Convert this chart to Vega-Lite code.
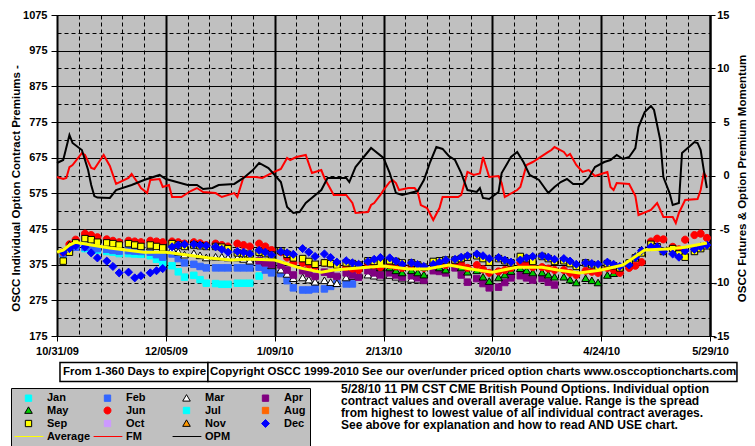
{
"$schema": "https://vega.github.io/schema/vega-lite/v6.json",
"width": 653, "height": 321,
"autosize": "none",
"padding": {"left": 57, "top": 15, "right": 45, "bottom": 110},
"background": "#FFFFFF",
"config": {
 "view": {"fill": "#C0C0C0", "stroke": "#808080", "strokeWidth": 1},
 "axis": {"labelFont": "Liberation Sans", "labelFontSize": 11, "labelFontWeight": "bold", "labelColor": "#000000", "titleFont": "Liberation Sans", "titleFontSize": 11.5, "titleFontWeight": "bold", "titleColor": "#000000", "domainColor": "#000000", "tickColor": "#000000", "gridColor": "#000000", "gridOpacity": 1, "labelOverlap": false, "labelFlush": false},
 "legend": {"orient": "none", "legendX": -46, "legendY": 373, "direction": "horizontal", "columns": 4, "gridAlign": "all", "fillColor": "#C0C0C0", "strokeColor": "#000000", "padding": 4, "labelFont": "Liberation Sans", "labelFontSize": 11, "labelFontWeight": "bold", "labelColor": "#000000", "symbolSize": 40, "symbolOffset": 8, "labelOffset": 13, "columnPadding": 0, "rowPadding": 0, "symbolStrokeWidth": 1}
},
"datasets": {
 "pts": [
{"d":"2009-11-02","s":"Jan","v":405},{"d":"2009-11-04","s":"Jan","v":420},{"d":"2009-11-06","s":"Jan","v":428},
{"d":"2009-11-09","s":"Jan","v":420},{"d":"2009-11-11","s":"Jan","v":418},{"d":"2009-11-13","s":"Jan","v":416},
{"d":"2009-11-16","s":"Jan","v":412},{"d":"2009-11-18","s":"Jan","v":410},{"d":"2009-11-20","s":"Jan","v":406},
{"d":"2009-11-23","s":"Jan","v":406},{"d":"2009-11-25","s":"Jan","v":405},{"d":"2009-11-27","s":"Jan","v":404},
{"d":"2009-11-30","s":"Jan","v":400},{"d":"2009-12-02","s":"Jan","v":390},{"d":"2009-12-04","s":"Jan","v":380},
{"d":"2009-12-07","s":"Jan","v":372},{"d":"2009-12-09","s":"Jan","v":355},{"d":"2009-12-11","s":"Jan","v":340},
{"d":"2009-12-14","s":"Jan","v":345},{"d":"2009-12-16","s":"Jan","v":333},{"d":"2009-12-18","s":"Jan","v":323},
{"d":"2009-12-21","s":"Jan","v":322},{"d":"2009-12-23","s":"Jan","v":320},{"d":"2009-12-25","s":"Jan","v":320},
{"d":"2009-12-28","s":"Jan","v":323},{"d":"2009-12-30","s":"Jan","v":323},{"d":"2010-01-01","s":"Jan","v":323},
{"d":"2010-01-04","s":"Jan","v":343},
{"d":"2009-11-02","s":"Feb","v":405},{"d":"2009-11-04","s":"Feb","v":418},{"d":"2009-11-06","s":"Feb","v":424},
{"d":"2009-11-09","s":"Feb","v":424},{"d":"2009-11-11","s":"Feb","v":422},{"d":"2009-11-13","s":"Feb","v":420},
{"d":"2009-11-16","s":"Feb","v":418},{"d":"2009-11-18","s":"Feb","v":415},{"d":"2009-11-20","s":"Feb","v":413},
{"d":"2009-11-23","s":"Feb","v":414},{"d":"2009-11-25","s":"Feb","v":413},{"d":"2009-11-27","s":"Feb","v":412},
{"d":"2009-11-30","s":"Feb","v":410},{"d":"2009-12-02","s":"Feb","v":403},{"d":"2009-12-04","s":"Feb","v":396},
{"d":"2009-12-07","s":"Feb","v":405},{"d":"2009-12-09","s":"Feb","v":392},{"d":"2009-12-11","s":"Feb","v":380},
{"d":"2009-12-14","s":"Feb","v":376},{"d":"2009-12-16","s":"Feb","v":370},{"d":"2009-12-18","s":"Feb","v":366},
{"d":"2009-12-21","s":"Feb","v":366},{"d":"2009-12-23","s":"Feb","v":366},{"d":"2009-12-25","s":"Feb","v":366},
{"d":"2009-12-28","s":"Feb","v":366},{"d":"2009-12-30","s":"Feb","v":366},{"d":"2010-01-01","s":"Feb","v":366},
{"d":"2010-01-04","s":"Feb","v":368},{"d":"2010-01-06","s":"Feb","v":360},{"d":"2010-01-08","s":"Feb","v":352},
{"d":"2010-01-11","s":"Feb","v":350},{"d":"2010-01-13","s":"Feb","v":330},{"d":"2010-01-15","s":"Feb","v":310},
{"d":"2010-01-18","s":"Feb","v":304},{"d":"2010-01-20","s":"Feb","v":304},{"d":"2010-01-22","s":"Feb","v":307},
{"d":"2010-01-25","s":"Feb","v":307},{"d":"2010-01-27","s":"Feb","v":314},{"d":"2010-01-29","s":"Feb","v":322},
{"d":"2010-02-01","s":"Feb","v":321},{"d":"2010-02-03","s":"Feb","v":321},
{"d":"2009-11-30","s":"Mar","v":425},{"d":"2009-12-02","s":"Mar","v":420},{"d":"2009-12-04","s":"Mar","v":418},
{"d":"2009-12-07","s":"Mar","v":418},{"d":"2009-12-09","s":"Mar","v":410},{"d":"2009-12-11","s":"Mar","v":402},
{"d":"2009-12-14","s":"Mar","v":406},{"d":"2009-12-16","s":"Mar","v":400},{"d":"2009-12-18","s":"Mar","v":394},
{"d":"2009-12-21","s":"Mar","v":396},{"d":"2009-12-23","s":"Mar","v":396},{"d":"2009-12-25","s":"Mar","v":394},
{"d":"2009-12-28","s":"Mar","v":394},{"d":"2009-12-30","s":"Mar","v":390},{"d":"2010-01-01","s":"Mar","v":385},
{"d":"2010-01-04","s":"Mar","v":392},{"d":"2010-01-06","s":"Mar","v":382},{"d":"2010-01-08","s":"Mar","v":372},
{"d":"2010-01-11","s":"Mar","v":360},{"d":"2010-01-13","s":"Mar","v":348},{"d":"2010-01-15","s":"Mar","v":336},
{"d":"2010-01-18","s":"Mar","v":338},{"d":"2010-01-20","s":"Mar","v":332},{"d":"2010-01-22","s":"Mar","v":326},
{"d":"2010-01-25","s":"Mar","v":330},{"d":"2010-01-27","s":"Mar","v":325},{"d":"2010-01-29","s":"Mar","v":322},
{"d":"2010-02-01","s":"Mar","v":338},{"d":"2010-02-03","s":"Mar","v":342},{"d":"2010-02-05","s":"Mar","v":345},
{"d":"2010-02-08","s":"Mar","v":346},{"d":"2010-02-10","s":"Mar","v":343},{"d":"2010-02-12","s":"Mar","v":340},
{"d":"2010-02-15","s":"Mar","v":345},{"d":"2010-02-17","s":"Mar","v":340},{"d":"2010-02-19","s":"Mar","v":335},
{"d":"2010-02-22","s":"Mar","v":334},{"d":"2010-02-24","s":"Mar","v":332},{"d":"2010-02-26","s":"Mar","v":330},
{"d":"2010-01-04","s":"Apr","v":386},{"d":"2010-01-06","s":"Apr","v":380},{"d":"2010-01-08","s":"Apr","v":376},
{"d":"2010-01-11","s":"Apr","v":374},{"d":"2010-01-13","s":"Apr","v":360},{"d":"2010-01-15","s":"Apr","v":346},
{"d":"2010-01-18","s":"Apr","v":358},{"d":"2010-01-20","s":"Apr","v":350},{"d":"2010-01-22","s":"Apr","v":342},
{"d":"2010-01-25","s":"Apr","v":354},{"d":"2010-01-27","s":"Apr","v":348},{"d":"2010-01-29","s":"Apr","v":342},
{"d":"2010-02-01","s":"Apr","v":352},{"d":"2010-02-03","s":"Apr","v":346},{"d":"2010-02-05","s":"Apr","v":340},
{"d":"2010-02-08","s":"Apr","v":358},{"d":"2010-02-10","s":"Apr","v":352},{"d":"2010-02-12","s":"Apr","v":346},
{"d":"2010-02-15","s":"Apr","v":352},{"d":"2010-02-17","s":"Apr","v":346},{"d":"2010-02-19","s":"Apr","v":340},
{"d":"2010-02-22","s":"Apr","v":344},{"d":"2010-02-24","s":"Apr","v":338},{"d":"2010-02-26","s":"Apr","v":332},
{"d":"2010-03-01","s":"Apr","v":358},{"d":"2010-03-03","s":"Apr","v":356},{"d":"2010-03-05","s":"Apr","v":352},
{"d":"2010-03-08","s":"Apr","v":366},{"d":"2010-03-10","s":"Apr","v":346},{"d":"2010-03-12","s":"Apr","v":326},
{"d":"2010-03-15","s":"Apr","v":336},{"d":"2010-03-17","s":"Apr","v":322},{"d":"2010-03-19","s":"Apr","v":310},
{"d":"2010-03-22","s":"Apr","v":312},{"d":"2010-03-24","s":"Apr","v":325},{"d":"2010-03-26","s":"Apr","v":338},
{"d":"2010-03-29","s":"Apr","v":344},{"d":"2010-03-31","s":"Apr","v":338},{"d":"2010-04-02","s":"Apr","v":332},
{"d":"2010-04-05","s":"Apr","v":336},{"d":"2010-04-07","s":"Apr","v":326},{"d":"2010-04-09","s":"Apr","v":318},
{"d":"2010-02-01","s":"May","v":372},{"d":"2010-02-03","s":"May","v":368},{"d":"2010-02-05","s":"May","v":365},
{"d":"2010-02-08","s":"May","v":376},{"d":"2010-02-10","s":"May","v":372},{"d":"2010-02-12","s":"May","v":366},
{"d":"2010-02-15","s":"May","v":366},{"d":"2010-02-17","s":"May","v":358},{"d":"2010-02-19","s":"May","v":352},
{"d":"2010-02-22","s":"May","v":358},{"d":"2010-02-24","s":"May","v":352},{"d":"2010-02-26","s":"May","v":346},
{"d":"2010-03-01","s":"May","v":372},{"d":"2010-03-03","s":"May","v":366},{"d":"2010-03-05","s":"May","v":360},
{"d":"2010-03-08","s":"May","v":378},{"d":"2010-03-10","s":"May","v":366},{"d":"2010-03-12","s":"May","v":354},
{"d":"2010-03-15","s":"May","v":358},{"d":"2010-03-17","s":"May","v":340},{"d":"2010-03-19","s":"May","v":328},
{"d":"2010-03-22","s":"May","v":338},{"d":"2010-03-24","s":"May","v":346},{"d":"2010-03-26","s":"May","v":356},
{"d":"2010-03-29","s":"May","v":364},{"d":"2010-03-31","s":"May","v":358},{"d":"2010-04-02","s":"May","v":352},
{"d":"2010-04-05","s":"May","v":352},{"d":"2010-04-07","s":"May","v":346},{"d":"2010-04-09","s":"May","v":340},
{"d":"2010-04-12","s":"May","v":340},{"d":"2010-04-14","s":"May","v":332},{"d":"2010-04-16","s":"May","v":324},
{"d":"2010-04-19","s":"May","v":336},{"d":"2010-04-21","s":"May","v":330},{"d":"2010-04-23","s":"May","v":324},
{"d":"2010-04-26","s":"May","v":345},{"d":"2010-04-28","s":"May","v":350},{"d":"2010-04-30","s":"May","v":358},
{"d":"2010-05-03","s":"May","v":378},{"d":"2010-05-05","s":"May","v":398},{"d":"2010-05-07","s":"May","v":416},
{"d":"2009-11-02","s":"Jun","v":410},{"d":"2009-11-04","s":"Jun","v":432},{"d":"2009-11-06","s":"Jun","v":445},
{"d":"2009-11-09","s":"Jun","v":462},{"d":"2009-11-11","s":"Jun","v":458},{"d":"2009-11-13","s":"Jun","v":452},
{"d":"2009-11-16","s":"Jun","v":446},{"d":"2009-11-18","s":"Jun","v":442},{"d":"2009-11-20","s":"Jun","v":438},
{"d":"2009-11-23","s":"Jun","v":442},{"d":"2009-11-25","s":"Jun","v":440},{"d":"2009-11-27","s":"Jun","v":438},
{"d":"2009-11-30","s":"Jun","v":442},{"d":"2009-12-02","s":"Jun","v":440},{"d":"2009-12-04","s":"Jun","v":438},
{"d":"2009-12-07","s":"Jun","v":440},{"d":"2009-12-09","s":"Jun","v":438},{"d":"2009-12-11","s":"Jun","v":434},
{"d":"2009-12-14","s":"Jun","v":438},{"d":"2009-12-16","s":"Jun","v":435},{"d":"2009-12-18","s":"Jun","v":430},
{"d":"2009-12-21","s":"Jun","v":434},{"d":"2009-12-23","s":"Jun","v":430},{"d":"2009-12-25","s":"Jun","v":426},
{"d":"2009-12-28","s":"Jun","v":434},{"d":"2009-12-30","s":"Jun","v":430},{"d":"2010-01-01","s":"Jun","v":426},
{"d":"2010-01-04","s":"Jun","v":434},{"d":"2010-01-06","s":"Jun","v":426},{"d":"2010-01-08","s":"Jun","v":416},
{"d":"2010-01-11","s":"Jun","v":410},{"d":"2010-01-13","s":"Jun","v":395},{"d":"2010-01-15","s":"Jun","v":380},
{"d":"2010-01-18","s":"Jun","v":380},{"d":"2010-01-20","s":"Jun","v":375},{"d":"2010-01-22","s":"Jun","v":370},
{"d":"2010-01-25","s":"Jun","v":380},{"d":"2010-01-27","s":"Jun","v":378},{"d":"2010-01-29","s":"Jun","v":374},
{"d":"2010-02-01","s":"Jun","v":368},{"d":"2010-02-03","s":"Jun","v":364},{"d":"2010-02-05","s":"Jun","v":360},
{"d":"2010-02-08","s":"Jun","v":378},{"d":"2010-02-10","s":"Jun","v":374},{"d":"2010-02-12","s":"Jun","v":368},
{"d":"2010-02-15","s":"Jun","v":374},{"d":"2010-02-17","s":"Jun","v":370},{"d":"2010-02-19","s":"Jun","v":366},
{"d":"2010-02-22","s":"Jun","v":372},{"d":"2010-02-24","s":"Jun","v":370},{"d":"2010-02-26","s":"Jun","v":366},
{"d":"2010-03-01","s":"Jun","v":378},{"d":"2010-03-03","s":"Jun","v":376},{"d":"2010-03-05","s":"Jun","v":374},
{"d":"2010-03-08","s":"Jun","v":382},{"d":"2010-03-10","s":"Jun","v":376},{"d":"2010-03-12","s":"Jun","v":366},
{"d":"2010-03-15","s":"Jun","v":374},{"d":"2010-03-17","s":"Jun","v":362},{"d":"2010-03-19","s":"Jun","v":352},
{"d":"2010-03-22","s":"Jun","v":356},{"d":"2010-03-24","s":"Jun","v":360},{"d":"2010-03-26","s":"Jun","v":366},
{"d":"2010-03-29","s":"Jun","v":380},{"d":"2010-03-31","s":"Jun","v":374},{"d":"2010-04-02","s":"Jun","v":368},
{"d":"2010-04-05","s":"Jun","v":368},{"d":"2010-04-07","s":"Jun","v":364},{"d":"2010-04-09","s":"Jun","v":360},
{"d":"2010-04-12","s":"Jun","v":360},{"d":"2010-04-14","s":"Jun","v":352},{"d":"2010-04-16","s":"Jun","v":346},
{"d":"2010-04-19","s":"Jun","v":358},{"d":"2010-04-21","s":"Jun","v":355},{"d":"2010-04-23","s":"Jun","v":352},
{"d":"2010-04-26","s":"Jun","v":366},{"d":"2010-04-28","s":"Jun","v":360},{"d":"2010-04-30","s":"Jun","v":352},
{"d":"2010-05-03","s":"Jun","v":366},{"d":"2010-05-05","s":"Jun","v":372},{"d":"2010-05-07","s":"Jun","v":382},
{"d":"2010-05-10","s":"Jun","v":440},{"d":"2010-05-12","s":"Jun","v":448},{"d":"2010-05-14","s":"Jun","v":446},
{"d":"2010-05-17","s":"Jun","v":425},{"d":"2010-05-19","s":"Jun","v":418},{"d":"2010-05-21","s":"Jun","v":445},
{"d":"2010-05-24","s":"Jun","v":458},{"d":"2010-05-26","s":"Jun","v":462},{"d":"2010-05-28","s":"Jun","v":450},
{"d":"2009-11-04","s":"Nov","v":430},
{"d":"2009-11-02","s":"Sep","v":385},{"d":"2009-11-04","s":"Sep","v":410},{"d":"2009-11-06","s":"Sep","v":436},
{"d":"2009-11-09","s":"Sep","v":448},{"d":"2009-11-11","s":"Sep","v":445},{"d":"2009-11-13","s":"Sep","v":438},
{"d":"2009-11-16","s":"Sep","v":436},{"d":"2009-11-18","s":"Sep","v":434},{"d":"2009-11-20","s":"Sep","v":430},
{"d":"2009-11-23","s":"Sep","v":434},{"d":"2009-11-25","s":"Sep","v":430},{"d":"2009-11-27","s":"Sep","v":426},
{"d":"2009-11-30","s":"Sep","v":430},{"d":"2009-12-02","s":"Sep","v":426},{"d":"2009-12-04","s":"Sep","v":422},
{"d":"2009-12-07","s":"Sep","v":434},{"d":"2009-12-09","s":"Sep","v":430},{"d":"2009-12-11","s":"Sep","v":426},
{"d":"2009-12-14","s":"Sep","v":430},{"d":"2009-12-16","s":"Sep","v":428},{"d":"2009-12-18","s":"Sep","v":426},
{"d":"2009-12-21","s":"Sep","v":426},{"d":"2009-12-23","s":"Sep","v":424},{"d":"2009-12-25","s":"Sep","v":420},
{"d":"2009-12-28","s":"Sep","v":408},{"d":"2009-12-30","s":"Sep","v":406},{"d":"2010-01-01","s":"Sep","v":404},
{"d":"2010-01-04","s":"Sep","v":410},{"d":"2010-01-06","s":"Sep","v":406},{"d":"2010-01-08","s":"Sep","v":402},
{"d":"2010-01-11","s":"Sep","v":414},{"d":"2010-01-13","s":"Sep","v":404},{"d":"2010-01-15","s":"Sep","v":394},
{"d":"2010-01-18","s":"Sep","v":392},{"d":"2010-01-20","s":"Sep","v":384},{"d":"2010-01-22","s":"Sep","v":376},
{"d":"2010-01-25","s":"Sep","v":380},{"d":"2010-01-27","s":"Sep","v":378},{"d":"2010-01-29","s":"Sep","v":374},
{"d":"2010-02-01","s":"Sep","v":380},{"d":"2010-02-03","s":"Sep","v":378},{"d":"2010-02-05","s":"Sep","v":374},
{"d":"2010-02-08","s":"Sep","v":386},{"d":"2010-02-10","s":"Sep","v":384},{"d":"2010-02-12","s":"Sep","v":380},
{"d":"2010-02-15","s":"Sep","v":386},{"d":"2010-02-17","s":"Sep","v":384},{"d":"2010-02-19","s":"Sep","v":380},
{"d":"2010-02-22","s":"Sep","v":380},{"d":"2010-02-24","s":"Sep","v":374},{"d":"2010-02-26","s":"Sep","v":368},
{"d":"2010-03-01","s":"Sep","v":384},{"d":"2010-03-03","s":"Sep","v":386},{"d":"2010-03-05","s":"Sep","v":388},
{"d":"2010-03-08","s":"Sep","v":388},{"d":"2010-03-10","s":"Sep","v":392},{"d":"2010-03-12","s":"Sep","v":396},
{"d":"2010-03-15","s":"Sep","v":400},{"d":"2010-03-17","s":"Sep","v":392},{"d":"2010-03-19","s":"Sep","v":382},
{"d":"2010-03-22","s":"Sep","v":392},{"d":"2010-03-24","s":"Sep","v":386},{"d":"2010-03-26","s":"Sep","v":380},
{"d":"2010-03-29","s":"Sep","v":398},{"d":"2010-03-31","s":"Sep","v":392},{"d":"2010-04-02","s":"Sep","v":384},
{"d":"2010-04-05","s":"Sep","v":398},{"d":"2010-04-07","s":"Sep","v":392},{"d":"2010-04-09","s":"Sep","v":384},
{"d":"2010-04-12","s":"Sep","v":386},{"d":"2010-04-14","s":"Sep","v":378},{"d":"2010-04-16","s":"Sep","v":370},
{"d":"2010-04-19","s":"Sep","v":380},{"d":"2010-04-21","s":"Sep","v":375},{"d":"2010-04-23","s":"Sep","v":370},
{"d":"2010-04-26","s":"Sep","v":378},{"d":"2010-04-28","s":"Sep","v":372},{"d":"2010-04-30","s":"Sep","v":366},
{"d":"2010-05-03","s":"Sep","v":380},{"d":"2010-05-05","s":"Sep","v":394},{"d":"2010-05-07","s":"Sep","v":408},
{"d":"2010-05-10","s":"Sep","v":432},{"d":"2010-05-12","s":"Sep","v":425},{"d":"2010-05-14","s":"Sep","v":412},
{"d":"2010-05-17","s":"Sep","v":420},{"d":"2010-05-19","s":"Sep","v":405},{"d":"2010-05-21","s":"Sep","v":396},
{"d":"2010-05-24","s":"Sep","v":412},{"d":"2010-05-26","s":"Sep","v":420},{"d":"2010-05-28","s":"Sep","v":428},
{"d":"2009-11-02","s":"Dec","v":410},{"d":"2009-11-04","s":"Dec","v":420},{"d":"2009-11-06","s":"Dec","v":428},
{"d":"2009-11-09","s":"Dec","v":424},{"d":"2009-11-11","s":"Dec","v":408},{"d":"2009-11-13","s":"Dec","v":394},
{"d":"2009-11-16","s":"Dec","v":385},{"d":"2009-11-18","s":"Dec","v":370},{"d":"2009-11-20","s":"Dec","v":352},
{"d":"2009-11-23","s":"Dec","v":354},{"d":"2009-11-25","s":"Dec","v":338},{"d":"2009-11-27","s":"Dec","v":344},
{"d":"2009-11-30","s":"Dec","v":352},{"d":"2009-12-02","s":"Dec","v":358},{"d":"2009-12-04","s":"Dec","v":364},
{"d":"2009-12-07","s":"Dec","v":425},{"d":"2009-12-09","s":"Dec","v":430},{"d":"2009-12-11","s":"Dec","v":432},
{"d":"2009-12-14","s":"Dec","v":432},{"d":"2009-12-16","s":"Dec","v":430},{"d":"2009-12-18","s":"Dec","v":428},
{"d":"2009-12-21","s":"Dec","v":425},{"d":"2009-12-23","s":"Dec","v":418},{"d":"2009-12-25","s":"Dec","v":410},
{"d":"2009-12-28","s":"Dec","v":412},{"d":"2009-12-30","s":"Dec","v":410},{"d":"2010-01-01","s":"Dec","v":405},
{"d":"2010-01-04","s":"Dec","v":415},{"d":"2010-01-06","s":"Dec","v":410},{"d":"2010-01-08","s":"Dec","v":402},
{"d":"2010-01-11","s":"Dec","v":412},{"d":"2010-01-13","s":"Dec","v":408},{"d":"2010-01-15","s":"Dec","v":404},
{"d":"2010-01-18","s":"Dec","v":420},{"d":"2010-01-20","s":"Dec","v":410},{"d":"2010-01-22","s":"Dec","v":398},
{"d":"2010-01-25","s":"Dec","v":405},{"d":"2010-01-27","s":"Dec","v":395},{"d":"2010-01-29","s":"Dec","v":382},
{"d":"2010-02-01","s":"Dec","v":386},{"d":"2010-02-03","s":"Dec","v":380},{"d":"2010-02-05","s":"Dec","v":376},
{"d":"2010-02-08","s":"Dec","v":384},{"d":"2010-02-10","s":"Dec","v":390},{"d":"2010-02-12","s":"Dec","v":395},
{"d":"2010-02-15","s":"Dec","v":394},{"d":"2010-02-17","s":"Dec","v":385},{"d":"2010-02-19","s":"Dec","v":376},
{"d":"2010-02-22","s":"Dec","v":380},{"d":"2010-02-24","s":"Dec","v":375},{"d":"2010-02-26","s":"Dec","v":370},
{"d":"2010-03-01","s":"Dec","v":376},{"d":"2010-03-03","s":"Dec","v":382},{"d":"2010-03-05","s":"Dec","v":388},
{"d":"2010-03-08","s":"Dec","v":390},{"d":"2010-03-10","s":"Dec","v":396},{"d":"2010-03-12","s":"Dec","v":400},
{"d":"2010-03-15","s":"Dec","v":405},{"d":"2010-03-17","s":"Dec","v":400},{"d":"2010-03-19","s":"Dec","v":392},
{"d":"2010-03-22","s":"Dec","v":395},{"d":"2010-03-24","s":"Dec","v":388},{"d":"2010-03-26","s":"Dec","v":382},
{"d":"2010-03-29","s":"Dec","v":388},{"d":"2010-03-31","s":"Dec","v":394},{"d":"2010-04-02","s":"Dec","v":398},
{"d":"2010-04-05","s":"Dec","v":400},{"d":"2010-04-07","s":"Dec","v":396},{"d":"2010-04-09","s":"Dec","v":390},
{"d":"2010-04-12","s":"Dec","v":392},{"d":"2010-04-14","s":"Dec","v":385},{"d":"2010-04-16","s":"Dec","v":376},
{"d":"2010-04-19","s":"Dec","v":380},{"d":"2010-04-21","s":"Dec","v":378},{"d":"2010-04-23","s":"Dec","v":376},
{"d":"2010-04-26","s":"Dec","v":382},{"d":"2010-04-28","s":"Dec","v":376},{"d":"2010-04-30","s":"Dec","v":370},
{"d":"2010-05-03","s":"Dec","v":374},{"d":"2010-05-05","s":"Dec","v":395},{"d":"2010-05-07","s":"Dec","v":414},
{"d":"2010-05-10","s":"Dec","v":425},{"d":"2010-05-12","s":"Dec","v":425},{"d":"2010-05-14","s":"Dec","v":412},
{"d":"2010-05-17","s":"Dec","v":405},{"d":"2010-05-19","s":"Dec","v":396},{"d":"2010-05-21","s":"Dec","v":414},
{"d":"2010-05-24","s":"Dec","v":418},{"d":"2010-05-26","s":"Dec","v":425},{"d":"2010-05-28","s":"Dec","v":430}
 ],
 "avg": [
{"d":"2009-10-31","v":410},{"d":"2009-11-02","v":416},{"d":"2009-11-04","v":430},{"d":"2009-11-06","v":438},
{"d":"2009-11-11","v":430},{"d":"2009-11-17","v":422},{"d":"2009-11-28","v":410},{"d":"2009-12-05","v":410},
{"d":"2009-12-19","v":394},{"d":"2009-12-26","v":388},{"d":"2010-01-01","v":391},{"d":"2010-01-09","v":388},
{"d":"2010-01-17","v":366},{"d":"2010-01-24","v":354},{"d":"2010-01-28","v":360},{"d":"2010-02-08","v":368},
{"d":"2010-02-13","v":371},{"d":"2010-02-21","v":363},{"d":"2010-02-27","v":363},{"d":"2010-03-06","v":374},
{"d":"2010-03-13","v":363},{"d":"2010-03-20","v":354},{"d":"2010-03-28","v":368},{"d":"2010-04-05","v":368},
{"d":"2010-04-10","v":360},{"d":"2010-04-17","v":352},{"d":"2010-04-24","v":360},{"d":"2010-05-01","v":374},
{"d":"2010-05-08","v":416},{"d":"2010-05-15","v":419},{"d":"2010-05-21","v":424},{"d":"2010-05-28","v":436}
 ],
 "fm": [
{"d":"2009-10-31","v":-0.14},{"d":"2009-11-02","v":-0.33},{"d":"2009-11-03","v":-0.23},{"d":"2009-11-04","v":0.79},
{"d":"2009-11-05","v":0.98},{"d":"2009-11-08","v":2.10},{"d":"2009-11-09","v":1.92},{"d":"2009-11-11","v":0.70},
{"d":"2009-11-12","v":0.61},{"d":"2009-11-15","v":1.92},{"d":"2009-11-17","v":0.89},{"d":"2009-11-19","v":-0.79},
{"d":"2009-11-23","v":-0.23},{"d":"2009-11-24","v":0.14},{"d":"2009-11-26","v":-0.70},{"d":"2009-11-27","v":-1.17},
{"d":"2009-11-29","v":-1.64},{"d":"2009-11-30","v":-0.42},{"d":"2009-12-03","v":-0.33},{"d":"2009-12-04","v":-1.07},
{"d":"2009-12-06","v":-0.89},{"d":"2009-12-07","v":-2.01},{"d":"2009-12-10","v":-2.01},{"d":"2009-12-13","v":-1.45},
{"d":"2009-12-15","v":-1.17},{"d":"2009-12-17","v":-1.54},{"d":"2009-12-21","v":-1.64},{"d":"2009-12-23","v":-2.01},
{"d":"2009-12-27","v":-1.64},{"d":"2009-12-28","v":-2.01},{"d":"2009-12-30","v":-0.14},{"d":"2010-01-03","v":-0.14},
{"d":"2010-01-05","v":-0.23},{"d":"2010-01-08","v":0.23},{"d":"2010-01-11","v":0.61},{"d":"2010-01-13","v":1.64},
{"d":"2010-01-14","v":1.45},{"d":"2010-01-16","v":1.73},{"d":"2010-01-19","v":1.92},{"d":"2010-01-21","v":0.23},
{"d":"2010-01-24","v":0.51},{"d":"2010-01-25","v":-0.23},{"d":"2010-01-28","v":-1.82},{"d":"2010-02-01","v":-1.82},
{"d":"2010-02-03","v":-2.57},{"d":"2010-02-04","v":-3.50},{"d":"2010-02-08","v":-3.41},{"d":"2010-02-09","v":-2.76},
{"d":"2010-02-10","v":-2.57},{"d":"2010-02-12","v":-1.82},{"d":"2010-02-13","v":-1.36},{"d":"2010-02-15","v":-0.60},
{"d":"2010-02-16","v":-0.45},{"d":"2010-02-17","v":-0.70},{"d":"2010-02-18","v":-1.36},{"d":"2010-02-21","v":-1.17},
{"d":"2010-02-23","v":-1.17},{"d":"2010-02-24","v":-1.54},{"d":"2010-02-25","v":-2.76},{"d":"2010-02-27","v":-3.04},
{"d":"2010-03-01","v":-4.16},{"d":"2010-03-03","v":-3.04},{"d":"2010-03-04","v":-2.01},{"d":"2010-03-09","v":-2.01},
{"d":"2010-03-10","v":-1.82},{"d":"2010-03-12","v":0.33},{"d":"2010-03-14","v":0.05},{"d":"2010-03-16","v":0.20},
{"d":"2010-03-17","v":1.73},{"d":"2010-03-19","v":-0.14},{"d":"2010-03-22","v":-0.05},{"d":"2010-03-23","v":-0.70},
{"d":"2010-03-24","v":-2.01},{"d":"2010-03-28","v":-1.36},{"d":"2010-03-29","v":-1.07},{"d":"2010-03-31","v":0.98},
{"d":"2010-04-02","v":1.26},{"d":"2010-04-07","v":2.20},{"d":"2010-04-08","v":2.38},{"d":"2010-04-09","v":2.66},
{"d":"2010-04-12","v":2.20},{"d":"2010-04-13","v":1.82},{"d":"2010-04-14","v":2.01},{"d":"2010-04-16","v":0.98},
{"d":"2010-04-18","v":0.33},{"d":"2010-04-20","v":0.51},{"d":"2010-04-22","v":-0.05},{"d":"2010-04-25","v":0.23},
{"d":"2010-04-26","v":0.33},{"d":"2010-04-27","v":-1.07},{"d":"2010-04-28","v":-1.36},{"d":"2010-04-29","v":-0.70},
{"d":"2010-05-03","v":-0.79},{"d":"2010-05-05","v":-1.92},{"d":"2010-05-06","v":-3.69},{"d":"2010-05-10","v":-3.22},
{"d":"2010-05-12","v":-2.57},{"d":"2010-05-13","v":-3.22},{"d":"2010-05-14","v":-3.88},{"d":"2010-05-17","v":-3.88},
{"d":"2010-05-18","v":-4.44},{"d":"2010-05-19","v":-3.50},{"d":"2010-05-21","v":-2.29},{"d":"2010-05-25","v":-2.20},
{"d":"2010-05-26","v":-1.36},{"d":"2010-05-27","v":0.23},{"d":"2010-05-28","v":-0.14}
 ],
 "opm": [
{"d":"2009-10-31","v":1.17},{"d":"2009-11-02","v":1.45},{"d":"2009-11-04","v":3.79},{"d":"2009-11-05","v":3.04},
{"d":"2009-11-08","v":2.38},{"d":"2009-11-09","v":1.45},{"d":"2009-11-10","v":0.51},{"d":"2009-11-11","v":-0.89},
{"d":"2009-11-12","v":-1.92},{"d":"2009-11-13","v":-2.06},{"d":"2009-11-17","v":-2.10},{"d":"2009-11-19","v":-1.36},
{"d":"2009-11-24","v":-0.89},{"d":"2009-11-28","v":-0.42},{"d":"2009-12-03","v":0.05},{"d":"2009-12-05","v":-0.33},
{"d":"2009-12-12","v":-0.89},{"d":"2009-12-15","v":-0.89},{"d":"2009-12-17","v":-1.26},{"d":"2009-12-20","v":-1.17},
{"d":"2009-12-22","v":-0.89},{"d":"2009-12-27","v":-0.79},{"d":"2009-12-30","v":-0.23},{"d":"2010-01-02","v":0.51},
{"d":"2010-01-04","v":1.17},{"d":"2010-01-07","v":0.70},{"d":"2010-01-11","v":-0.61},{"d":"2010-01-13","v":-2.94},
{"d":"2010-01-15","v":-3.50},{"d":"2010-01-17","v":-3.41},{"d":"2010-01-19","v":-2.57},{"d":"2010-01-24","v":-1.36},
{"d":"2010-01-26","v":-0.23},{"d":"2010-02-01","v":-0.23},{"d":"2010-02-02","v":-0.61},{"d":"2010-02-04","v":0.79},
{"d":"2010-02-09","v":2.57},{"d":"2010-02-13","v":1.64},{"d":"2010-02-15","v":0.23},{"d":"2010-02-17","v":-1.64},
{"d":"2010-02-19","v":-1.82},{"d":"2010-02-24","v":-1.45},{"d":"2010-02-26","v":-0.42},{"d":"2010-02-28","v":1.26},
{"d":"2010-03-02","v":2.66},{"d":"2010-03-04","v":2.48},{"d":"2010-03-06","v":1.82},{"d":"2010-03-08","v":1.45},
{"d":"2010-03-10","v":0.23},{"d":"2010-03-12","v":-1.36},{"d":"2010-03-15","v":-1.54},{"d":"2010-03-16","v":-1.17},
{"d":"2010-03-17","v":-2.10},{"d":"2010-03-19","v":-2.20},{"d":"2010-03-22","v":-1.54},{"d":"2010-03-23","v":0.23},
{"d":"2010-03-26","v":1.73},{"d":"2010-03-28","v":2.20},{"d":"2010-03-30","v":1.26},{"d":"2010-04-01","v":0.05},
{"d":"2010-04-04","v":-0.42},{"d":"2010-04-07","v":-1.64},{"d":"2010-04-09","v":-1.07},{"d":"2010-04-11","v":-0.61},
{"d":"2010-04-13","v":-0.33},{"d":"2010-04-15","v":-0.79},{"d":"2010-04-18","v":-0.79},{"d":"2010-04-20","v":-0.23},
{"d":"2010-04-22","v":0.79},{"d":"2010-04-25","v":1.26},{"d":"2010-04-27","v":1.45},{"d":"2010-04-29","v":1.92},
{"d":"2010-05-01","v":1.54},{"d":"2010-05-03","v":1.73},{"d":"2010-05-05","v":2.57},{"d":"2010-05-06","v":4.53},
{"d":"2010-05-08","v":5.93},{"d":"2010-05-10","v":6.50},{"d":"2010-05-11","v":6.12},{"d":"2010-05-13","v":3.32},
{"d":"2010-05-14","v":-0.14},{"d":"2010-05-16","v":-1.64},{"d":"2010-05-17","v":-2.76},{"d":"2010-05-19","v":-2.57},
{"d":"2010-05-20","v":2.10},{"d":"2010-05-24","v":3.13},{"d":"2010-05-25","v":3.04},{"d":"2010-05-26","v":2.38},
{"d":"2010-05-27","v":0.51},{"d":"2010-05-28","v":-1.17}
 ]
},
"layer": [
 {
  "data": {"name": "pts"},
  "mark": {"type": "point", "filled": true, "opacity": 1, "size": 42, "strokeWidth": 1},
  "encoding": {
   "x": {"field": "d", "type": "temporal",
    "scale": {"type": "utc", "nice": false, "domain": [{"year": 2009, "month": 10, "date": 31, "utc": true}, {"year": 2010, "month": 5, "date": 29, "utc": true}]},
    "axis": {"orient": "bottom", "title": null, "labels": false, "ticks": false, "domain": false,
     "values": [
{"year":2009,"month":11,"date":7,"utc":true},{"year":2009,"month":11,"date":14,"utc":true},{"year":2009,"month":11,"date":21,"utc":true},{"year":2009,"month":11,"date":28,"utc":true},
{"year":2009,"month":12,"date":12,"utc":true},{"year":2009,"month":12,"date":19,"utc":true},{"year":2009,"month":12,"date":26,"utc":true},{"year":2010,"month":1,"date":2,"utc":true},
{"year":2010,"month":1,"date":16,"utc":true},{"year":2010,"month":1,"date":23,"utc":true},{"year":2010,"month":1,"date":30,"utc":true},{"year":2010,"month":2,"date":6,"utc":true},
{"year":2010,"month":2,"date":20,"utc":true},{"year":2010,"month":2,"date":27,"utc":true},{"year":2010,"month":3,"date":6,"utc":true},{"year":2010,"month":3,"date":13,"utc":true},
{"year":2010,"month":3,"date":27,"utc":true},{"year":2010,"month":4,"date":3,"utc":true},{"year":2010,"month":4,"date":10,"utc":true},{"year":2010,"month":4,"date":17,"utc":true},
{"year":2010,"month":5,"date":1,"utc":true},{"year":2010,"month":5,"date":8,"utc":true},{"year":2010,"month":5,"date":15,"utc":true},{"year":2010,"month":5,"date":22,"utc":true}],
     "grid": true, "gridDash": [4, 3], "gridWidth": 1}
   },
   "y": {"field": "v", "type": "quantitative",
    "scale": {"domain": [175, 1075], "nice": false, "zero": false},
    "axis": {"orient": "left", "values": [175,225,275,325,375,425,475,525,575,625,675,725,775,825,875,925,975,1025,1075],
     "format": "d", "labelOverlap": false,
     "labelExpr": "datum.value % 100 == 75 ? datum.label : ''",
     "grid": true,
     "gridDash": {"condition": {"test": "datum.value % 100 == 75", "value": []}, "value": [4, 3]},
     "tickSize": {"condition": {"test": "datum.value % 100 == 75", "value": 6}, "value": 0},
     "labelPadding": 4,
     "title": "OSCC Individual Option Contract Premiums -",
     "titleAngle": 270, "titleX": -41, "titleY": 173, "titleBaseline": "middle", "titleAlign": "center"}
   },
   "color": {"field": "s", "type": "nominal",
    "scale": {"domain": ["Jan","Feb","Mar","Apr","May","Jun","Jul","Aug","Sep","Oct","Nov","Dec","Average","FM","OPM"],
     "range": ["#00FFFF","#3366FF","#FFFFFF","#800080","#00CC00","#FF0000","#00FFFF","#FF6600","#FFFF00","#CC99FF","#FF9900","#0000FF","transparent","transparent","transparent"]},
    "legend": {"title": null, "direction": "horizontal", "columns": 4, "gridAlign": "all",
     "encode": {
      "symbols": {"update": {"strokeWidth": {"signal": "indexof(['Average','FM','OPM'], datum.value) >= 0 ? 2.5 : 1"}}},
      "legend": {"update": {"strokeWidth": {"value": 1.5}}}
     }}
   },
   "shape": {"field": "s", "type": "nominal",
    "scale": {"domain": ["Jan","Feb","Mar","Apr","May","Jun","Jul","Aug","Sep","Oct","Nov","Dec","Average","FM","OPM"],
     "range": ["M-4.4,0h0M-1,-1H1V1H-1Z","M-4.4,0h0M-1,-1H1V1H-1Z","M-4.4,0h0M0,-1.15L1.2,0.9H-1.2Z","M-4.4,0h0M-1,-1H1V1H-1Z","M-4.4,0h0M0,-1.15L1.2,0.9H-1.2Z","M-4.4,0h0M-1.1,0A1.1,1.1,0,1,0,1.1,0A1.1,1.1,0,1,0,-1.1,0Z","M-4.4,0h0M-1,-1H1V1H-1Z","M-4.4,0h0M-1,-1H1V1H-1Z","M-4.4,0h0M-1,-1H1V1H-1Z","M-4.4,0h0M-1,-1H1V1H-1Z","M-4.4,0h0M0,-1.15L1.2,0.9H-1.2Z","M-4.4,0h0M0,-1.25L1.25,0L0,1.25L-1.25,0Z","M-4.4,0H4.7","M-4.4,0H4.7","M-4.4,0H4.7"]},
    "legend": {"title": null, "direction": "horizontal", "columns": 4, "gridAlign": "all"}
   },
   "stroke": {"field": "s", "type": "nominal",
    "scale": {"domain": ["Jan","Feb","Mar","Apr","May","Jun","Jul","Aug","Sep","Oct","Nov","Dec","Average","FM","OPM"],
     "range": ["#00FFFF","#3366FF","#000000","#800080","#000000","#FF0000","#00FFFF","#FF6600","#000000","#CC99FF","#000000","#0000FF","#FFFF00","#FF0000","#000000"]},
    "legend": {"title": null, "direction": "horizontal", "columns": 4, "gridAlign": "all"}
   }
  }
 },
 {
  "data": {"name": "avg"},
  "mark": {"type": "line", "color": "#FFFF00", "strokeWidth": 3},
  "encoding": {
   "x": {"field": "d", "type": "temporal",
    "axis": {"orient": "bottom", "title": null, "format": "%-m/%d/%y", "labelOverlap": false, "labelFlush": false, "labelBound": false,
     "values": [{"year":2009,"month":10,"date":31,"utc":true},{"year":2009,"month":12,"date":5,"utc":true},{"year":2010,"month":1,"date":9,"utc":true},{"year":2010,"month":2,"date":13,"utc":true},{"year":2010,"month":3,"date":20,"utc":true},{"year":2010,"month":4,"date":24,"utc":true},{"year":2010,"month":5,"date":29,"utc":true}],
     "grid": true, "gridDash": [], "gridWidth": 2, "tickSize": 5, "labelPadding": 4, "domainWidth": 1}},
   "y": {"field": "v", "type": "quantitative", "scale": {"domain": [175, 1075], "nice": false, "zero": false}, "axis": null}
  }
 },
 {
  "data": {"name": "fm"},
  "mark": {"type": "line", "color": "#FF0000", "strokeWidth": 2},
  "encoding": {
   "x": {"field": "d", "type": "temporal", "axis": null},
   "y": {"field": "v", "type": "quantitative", "scale": {"domain": [-15, 15], "nice": false, "zero": false},
    "axis": {"orient": "right", "values": [-15,-10,-5,0,5,10,15], "grid": false, "tickSize": 5,
     "labelExpr": "'' + datum.value", "labelAlign": "right", "labelPadding": 14, "domainWidth": 2,
     "title": "OSCC Futures & Option Premium Momentum", "titleAngle": 270, "titleX": 32, "titleY": 163, "titleBaseline": "middle", "titleAlign": "center"}}
  }
 },
 {
  "data": {"name": "opm"},
  "mark": {"type": "line", "color": "#000000", "strokeWidth": 2},
  "encoding": {
   "x": {"field": "d", "type": "temporal", "axis": null},
   "y": {"field": "v", "type": "quantitative", "scale": {"domain": [-15, 15], "nice": false, "zero": false}, "axis": null}
  }
 },
 {
  "data": {"values": [{}]},
  "mark": {"type": "rect", "fill": "#FFFFFF", "stroke": "#000000", "strokeWidth": 1.5},
  "encoding": {
   "x": {"datum": {"year": 2009, "month": 10, "date": 31, "hours": 23, "utc": true}, "type": "temporal", "axis": null},
   "x2": {"datum": {"year": 2009, "month": 12, "date": 18, "hours": 13, "utc": true}},
   "y": {"datum": 100.5, "type": "quantitative", "scale": {"domain": [175, 1075], "nice": false, "zero": false}, "axis": null},
   "y2": {"datum": 47.5}
  }
 },
 {
  "data": {"values": [{}]},
  "mark": {"type": "rect", "fill": "#FFFFFF", "stroke": "#000000", "strokeWidth": 1.5},
  "encoding": {
   "x": {"datum": {"year": 2009, "month": 12, "date": 18, "hours": 13, "utc": true}, "type": "temporal", "axis": null},
   "x2": {"datum": {"year": 2010, "month": 6, "date": 6, "hours": 16, "utc": true}},
   "y": {"datum": 100.5, "type": "quantitative", "scale": {"domain": [175, 1075], "nice": false, "zero": false}, "axis": null},
   "y2": {"datum": 47.5}
  }
 },
 {
  "data": {"values": [{}]},
  "mark": {"type": "text", "align": "left", "baseline": "middle", "font": "Liberation Sans", "fontSize": 11.5, "fontWeight": "bold", "color": "#000000", "text": "From 1-360 Days to expire"},
  "encoding": {
   "x": {"datum": {"year": 2009, "month": 11, "date": 1, "hours": 22, "utc": true}, "type": "temporal", "axis": null},
   "y": {"datum": 74, "type": "quantitative", "scale": {"domain": [175, 1075], "nice": false, "zero": false}, "axis": null}
  }
 },
 {
  "data": {"values": [{}]},
  "mark": {"type": "text", "align": "left", "baseline": "middle", "font": "Liberation Sans", "fontSize": 11.5, "fontWeight": "bold", "color": "#000000", "text": "Copyright OSCC 1999-2010 See our over/under priced option charts www.osccoptioncharts.com"},
  "encoding": {
   "x": {"datum": {"year": 2009, "month": 12, "date": 19, "hours": 5, "utc": true}, "type": "temporal", "axis": null},
   "y": {"datum": 74, "type": "quantitative", "scale": {"domain": [175, 1075], "nice": false, "zero": false}, "axis": null}
  }
 },
 {
  "data": {"values": [{}]},
  "mark": {"type": "text", "align": "left", "baseline": "top", "font": "Liberation Sans", "fontSize": 12, "fontWeight": "bold", "color": "#000000", "lineHeight": 12,
   "text": ["5/28/10 11 PM CST CME British Pound Options. Individual option", "contract values and overall average value. Range is the spread", "from highest to lowest value of all individual contract averages.", "\u00a0See above for explanation and how to read AND USE chart."]},
  "encoding": {
   "x": {"datum": {"year": 2010, "month": 1, "date": 30, "hours": 8, "utc": true}, "type": "temporal", "axis": null},
   "y": {"datum": 41, "type": "quantitative", "scale": {"domain": [175, 1075], "nice": false, "zero": false}, "axis": null}
  }
 }
],
"resolve": {"scale": {"y": "independent"}, "axis": {"x": "independent"}}
}
